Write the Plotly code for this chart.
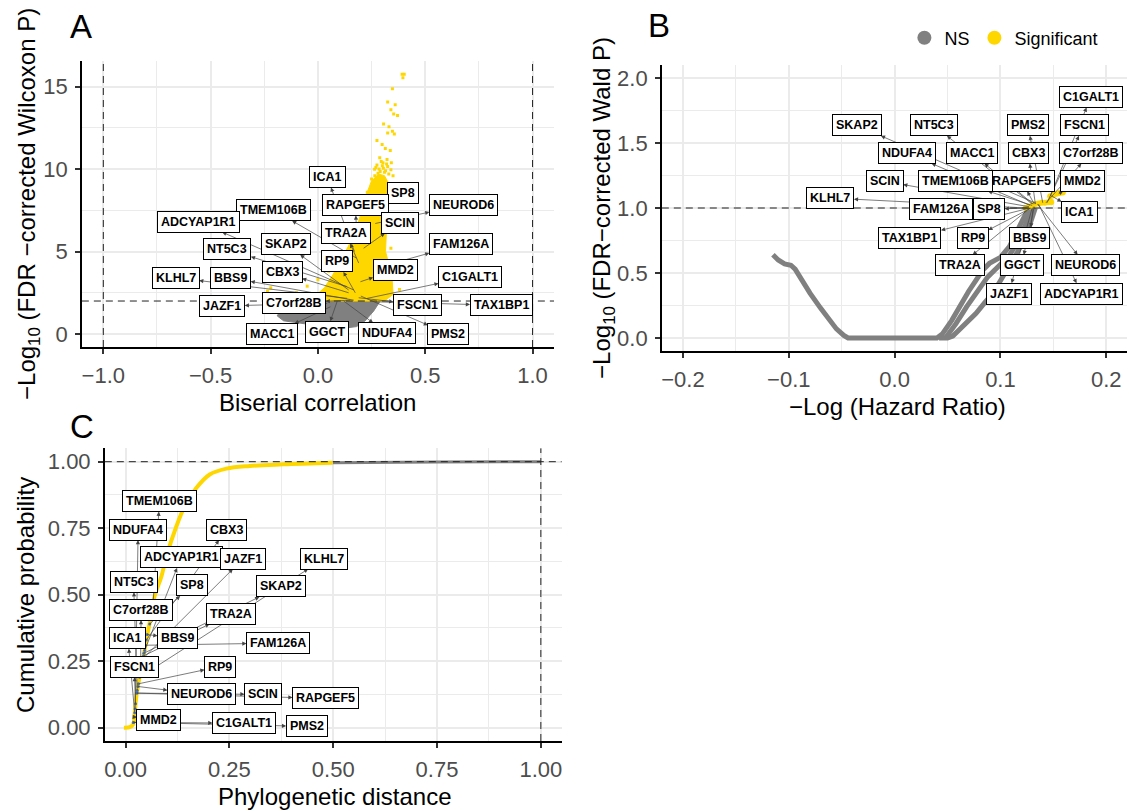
import plotly.graph_objects as go

FONT = "Liberation Sans"
GRAY = "#808080"
GOLD = "#FFD700"
GRID = "#EBEBEB"

# ---------------- Panel A: biserial correlation vs -log10 FDR (Wilcoxon) ----------------
# outline of the dense significant cloud
a_sig_core_r = [0.25, 0.23, 0.205, 0.17, 0.12, 0.07, 0.03, -0.02, -0.04, 0.31, 0.35, 0.345, 0.315, 0.32, 0.33, 0.335, 0.31, 0.28]
a_sig_core_p = [9.3, 8.6, 7.5, 6.0, 4.8, 3.6, 2.8, 2.2, 2.0, 2.0, 2.4, 3.5, 5.0, 6.5, 8.0, 9.0, 9.6, 9.7]
# outline of the dense non-significant cloud
a_ns_core_r = [-0.10, -0.17, -0.19, -0.16, -0.05, 0.05, 0.12, 0.18, 0.22, 0.26, 0.29]
a_ns_core_p = [2.0, 1.5, 1.1, 0.8, 0.6, 0.45, 0.35, 0.45, 0.8, 1.4, 2.0]
# significant genes scattered outside the dense core
a_sig_r = [0.392, 0.402, 0.396, 0.347, 0.325, 0.36, 0.34, 0.353, 0.371, 0.306, 0.331, 0.347, 0.325,
           0.356, 0.275, 0.299, 0.314, 0.337, 0.288, 0.322, 0.303, 0.342, 0.264, 0.35, 0.345, 0.25,
           0.23, 0.20, 0.36, 0.355, 0.34, 0.36, 0.37, 0.38, 0.39, -0.235, -0.22, -0.20, -0.24, -0.15,
           -0.10, -0.05, 0.0, 0.05, 0.27, 0.285, 0.30, 0.315, 0.29, 0.305, 0.32, 0.28, 0.31, 0.265,
           0.295, 0.325, 0.34, 0.275, 0.33]
a_sig_p = [15.74, 15.74, 15.54, 14.86, 14.06, 13.9, 13.6, 13.33, 13.25, 12.73, 12.57, 12.29, 12.19,
           12.13, 11.73, 11.49, 11.25, 11.13, 10.68, 10.58, 10.38, 10.38, 9.98, 9.6, 8.8, 9.4,
           8.6, 7.6, 7.2, 6.3, 5.2, 4.2, 3.4, 2.7, 2.3, 2.6, 2.8, 2.4, 2.3, 2.2,
           2.5, 2.9, 3.3, 3.8, 10.1, 10.0, 10.2, 9.9, 9.85, 10.05, 10.3, 9.75, 9.8, 9.6,
           10.45, 10.15, 9.95, 10.25, 9.7]
a_threshold = 2.0

a_genes = ["ICA1", "SP8", "RAPGEF5", "NEUROD6", "TMEM106B", "ADCYAP1R1", "SCIN", "TRA2A", "SKAP2",
           "NT5C3", "FAM126A", "RP9", "MMD2", "CBX3", "KLHL7", "BBS9", "C1GALT1", "JAZF1",
           "C7orf28B", "FSCN1", "TAX1BP1", "MACC1", "GGCT", "NDUFA4", "PMS2"]
a_gene_r = [0.17, 0.25, 0.18, 0.267, 0.18, 0.167, 0.213, 0.19, 0.143, 0.136, 0.27, 0.174, 0.198,
            0.143, 0.136, 0.167, 0.229, 0.043, 0.15, 0.19, 0.27, 0.058, 0.09, 0.12, 0.2]
a_gene_p = [5.0, 7.3, 6.3, 6.7, 4.6, 2.67, 5.2, 4.3, 2.67, 2.87, 4.0, 2.5, 3.17, 2.5, 2.16, 2.05,
            2.16, 1.86, 2.05, 2.2, 1.95, 1.65, 2.0, 2.0, 2.3]

# ---------------- Panel B: -log hazard ratio vs -log10 FDR (Wald) ----------------
b_ns_hr_1 = [-0.115, -0.110, -0.104, -0.098, -0.094, -0.088, -0.080, -0.070, -0.062, -0.055, -0.048,
             -0.044, 0.040, 0.045, 0.054, 0.0613, 0.070, 0.077, 0.083, 0.0896, 0.100, 0.1085, 0.115,
             0.121, 0.127]
b_ns_p_1 = [0.64, 0.60, 0.57, 0.56, 0.53, 0.45, 0.345, 0.23, 0.14, 0.07, 0.02,
            0.0, 0.0, 0.03, 0.136, 0.241, 0.36, 0.446, 0.52, 0.574, 0.62, 0.703, 0.80,
            0.908, 1.0]
b_ns_hr_2 = [0.042, 0.050, 0.055, 0.066, 0.077, 0.085, 0.0928, 0.100, 0.1085, 0.116, 0.124, 0.1305, 0.133]
b_ns_p_2 = [0.0, 0.0, 0.015, 0.10, 0.19, 0.27, 0.344, 0.44, 0.549, 0.66, 0.78, 0.933, 1.0]
b_ns_hr_3 = [0.048, 0.058, 0.068, 0.078, 0.088, 0.098, 0.108, 0.118, 0.126, 0.130]
b_ns_p_3 = [0.0, 0.11, 0.24, 0.36, 0.47, 0.55, 0.63, 0.76, 0.92, 1.0]
b_sig_hr = [0.124, 0.127, 0.130, 0.133, 0.136, 0.139, 0.142, 0.145, 0.148, 0.147, 0.150, 0.153, 0.156, 0.159]
b_sig_p = [1.00, 1.01, 1.02, 1.03, 1.035, 1.04, 1.04, 1.045, 1.045, 1.09, 1.10, 1.11, 1.115, 1.12]
b_threshold = 1.0

b_genes = ["C1GALT1", "SKAP2", "NT5C3", "PMS2", "FSCN1", "NDUFA4", "MACC1", "CBX3", "C7orf28B",
           "SCIN", "RAPGEF5", "TMEM106B", "MMD2", "KLHL7", "FAM126A", "SP8", "ICA1", "TAX1BP1",
           "RP9", "BBS9", "TRA2A", "GGCT", "NEUROD6", "JAZF1", "ADCYAP1R1"]
b_gene_hr = [0.147, 0.1337, 0.13, 0.14, 0.144, 0.128, 0.131, 0.133, 0.143, 0.127, 0.132, 0.13, 0.155,
             0.125, 0.127, 0.126, 0.148, 0.128, 0.129, 0.131, 0.128, 0.132, 0.135, 0.13, 0.136]
b_gene_p = [1.09, 1.036, 1.03, 1.04, 1.04, 1.02, 1.03, 1.03, 1.04, 1.01, 1.03, 1.02, 1.11,
            1.0, 1.0, 1.0, 1.095, 1.0, 1.0, 1.01, 1.0, 1.01, 1.03, 1.0, 1.03]

# ---------------- Panel C: cumulative distribution of phylogenetic distance ----------------
c_sig_dist = [-0.004, 0.010, 0.018, 0.022, 0.026, 0.034, 0.046, 0.058, 0.070, 0.0865, 0.0986, 0.1226,
              0.1425, 0.1707, 0.2026, 0.2428, 0.299, 0.379, 0.499]
c_sig_cum = [0.0, 0.002, 0.012, 0.056, 0.119, 0.194, 0.294, 0.395, 0.495, 0.570, 0.645, 0.758,
             0.833, 0.902, 0.952, 0.974, 0.984, 0.990, 0.996]
c_ns_dist = [0.499, 0.60, 0.75, 0.90, 1.0]
c_ns_cum = [0.996, 0.998, 0.999, 1.0, 1.0]

c_genes = ["TMEM106B", "NDUFA4", "CBX3", "ADCYAP1R1", "JAZF1", "KLHL7", "NT5C3", "SP8", "SKAP2",
           "C7orf28B", "TRA2A", "ICA1", "BBS9", "FAM126A", "FSCN1", "RP9", "NEUROD6", "SCIN",
           "RAPGEF5", "MMD2", "C1GALT1", "PMS2"]
c_gene_dist = [0.066, 0.023, 0.05, 0.046, 0.042, 0.034, 0.028, 0.058, 0.044, 0.036, 0.043, 0.022,
               0.052, 0.048, 0.024, 0.031, 0.030, 0.027, 0.027, 0.021, 0.019, 0.019]
c_gene_cum = [0.46, 0.07, 0.33, 0.29, 0.26, 0.19, 0.14, 0.39, 0.28, 0.21, 0.27, 0.056,
              0.35, 0.31, 0.09, 0.165, 0.155, 0.13, 0.13, 0.04, 0.02, 0.02]

# ---------------- label placement (repelled positions, axis units) ----------------
A_LABEL_AT = {
    "ICA1": (0.043, 9.52), "SP8": (0.395, 8.56), "RAPGEF5": (0.174, 7.82), "NEUROD6": (0.678, 7.82),
    "TMEM106B": (-0.205, 7.5), "ADCYAP1R1": (-0.557, 6.81), "SCIN": (0.381, 6.75),
    "TRA2A": (0.129, 6.12), "SKAP2": (-0.15, 5.44), "NT5C3": (-0.422, 5.13),
    "FAM126A": (0.666, 5.44), "RP9": (0.091, 4.4), "MMD2": (0.36, 3.88), "CBX3": (-0.167, 3.74),
    "KLHL7": (-0.663, 3.41), "BBS9": (-0.407, 3.41), "C1GALT1": (0.709, 3.47),
    "JAZF1": (-0.446, 1.70), "C7orf28B": (-0.111, 1.90), "FSCN1": (0.463, 1.78),
    "TAX1BP1": (0.853, 1.74), "MACC1": (-0.213, 0.0), "GGCT": (0.041, 0.14),
    "NDUFA4": (0.323, 0.04), "PMS2": (0.608, 0.0),
}
B_LABEL_AT = {
    "C1GALT1": (0.1855, 1.854), "SKAP2": (-0.0358, 1.636), "NT5C3": (0.0371, 1.636),
    "PMS2": (0.126, 1.636), "FSCN1": (0.179, 1.636), "NDUFA4": (0.0116, 1.423),
    "MACC1": (0.073, 1.423), "CBX3": (0.1264, 1.423), "C7orf28B": (0.1855, 1.423),
    "SCIN": (-0.0094, 1.205), "RAPGEF5": (0.120, 1.21), "TMEM106B": (0.0575, 1.21),
    "MMD2": (0.1774, 1.21), "KLHL7": (-0.0607, 1.077), "FAM126A": (0.0443, 0.99),
    "SP8": (0.0893, 0.99), "ICA1": (0.1745, 0.967), "TAX1BP1": (0.0145, 0.769),
    "RP9": (0.0739, 0.769), "BBS9": (0.1277, 0.769), "TRA2A": (0.0616, 0.559),
    "GGCT": (0.120, 0.559), "NEUROD6": (0.1808, 0.559), "JAZF1": (0.1079, 0.341),
    "ADCYAP1R1": (0.1767, 0.341),
}
C_LABEL_AT = {
    "TMEM106B": (0.0817, 0.852), "NDUFA4": (0.0303, 0.745), "CBX3": (0.2435, 0.745),
    "ADCYAP1R1": (0.1337, 0.64), "JAZF1": (0.2837, 0.636), "KLHL7": (0.479, 0.636),
    "NT5C3": (0.0192, 0.549), "SP8": (0.159, 0.535), "SKAP2": (0.374, 0.531),
    "C7orf28B": (0.0375, 0.444), "TRA2A": (0.2548, 0.429), "ICA1": (0.0055, 0.337),
    "BBS9": (0.125, 0.337), "FAM126A": (0.367, 0.318), "FSCN1": (0.0207, 0.23),
    "RP9": (0.2274, 0.23), "NEUROD6": (0.1827, 0.125), "SCIN": (0.331, 0.125),
    "RAPGEF5": (0.4815, 0.11), "MMD2": (0.080, 0.030), "C1GALT1": (0.285, 0.017),
    "PMS2": (0.436, 0.005),
}

fig = go.Figure()

# Panel A traces
fig.add_trace(go.Scatter(x=a_ns_core_r, y=a_ns_core_p, fill="toself", fillcolor=GRAY, mode="lines",
                         line=dict(color=GRAY, width=1), hoverinfo="skip", showlegend=False,
                         xaxis="x", yaxis="y"))
fig.add_trace(go.Scatter(x=a_sig_core_r, y=a_sig_core_p, fill="toself", fillcolor=GOLD, mode="lines",
                         line=dict(color=GOLD, width=1), hoverinfo="skip", showlegend=False,
                         xaxis="x", yaxis="y"))
fig.add_trace(go.Scatter(x=a_sig_r, y=a_sig_p, mode="markers",
                         marker=dict(color=GOLD, size=3, symbol="square"), showlegend=False,
                         xaxis="x", yaxis="y"))

# Panel B traces
for hx, hy in [(b_ns_hr_1, b_ns_p_1), (b_ns_hr_2, b_ns_p_2), (b_ns_hr_3, b_ns_p_3)]:
    fig.add_trace(go.Scatter(x=hx, y=hy, mode="lines", line=dict(color=GRAY, width=5),
                             showlegend=False, xaxis="x2", yaxis="y2"))
fig.add_trace(go.Scatter(x=b_sig_hr, y=b_sig_p, mode="lines+markers",
                         line=dict(color=GOLD, width=4), marker=dict(color=GOLD, size=6),
                         showlegend=False, xaxis="x2", yaxis="y2"))
# legend entries
fig.add_trace(go.Scatter(x=[None], y=[None], mode="markers", name="NS",
                         marker=dict(color=GRAY, size=14), xaxis="x2", yaxis="y2"))
fig.add_trace(go.Scatter(x=[None], y=[None], mode="markers", name="Significant",
                         marker=dict(color=GOLD, size=14), xaxis="x2", yaxis="y2"))

# Panel C traces
fig.add_trace(go.Scatter(x=c_ns_dist, y=c_ns_cum, mode="lines", line=dict(color=GRAY, width=3),
                         showlegend=False, xaxis="x3", yaxis="y3"))
fig.add_trace(go.Scatter(x=c_sig_dist, y=c_sig_cum, mode="lines", line=dict(color=GOLD, width=4, shape="spline"),
                         showlegend=False, xaxis="x3", yaxis="y3"))
fig.add_trace(go.Scatter(x=c_gene_dist, y=c_gene_cum, mode="markers",
                         marker=dict(color="#4A6FB5", size=3), showlegend=False, xaxis="x3", yaxis="y3"))


def axis(domain, rng, tickvals, minor, fmt, anchor):
    return dict(domain=domain, range=rng, anchor=anchor, tickvals=tickvals, tickformat=fmt,
                showline=True, linecolor="black", linewidth=1.6, ticks="outside", ticklen=5,
                tickwidth=1.6, tickcolor="#333333", ticklabelstandoff=3,
                tickfont=dict(family=FONT, size=22, color="#4D4D4D"),
                showgrid=True, gridcolor=GRID, gridwidth=1.6, zeroline=False,
                minor=dict(tickvals=minor, showgrid=True, gridcolor=GRID, gridwidth=0.9, ticks=""))


W, H = 1129, 811
px = lambda v: v / W
py = lambda v: 1 - v / H

layout_axes = dict(
    xaxis=axis([px(81), px(554)], [-1.1, 1.1], [-1, -0.5, 0, 0.5, 1], [-0.75, -0.25, 0.25, 0.75], ".1f", "y"),
    yaxis=axis([py(347), py(61.3)], [-0.787, 16.53], [0, 5, 10, 15], [2.5, 7.5, 12.5], "d", "x"),
    xaxis2=axis([px(662), px(1128.4)], [-0.22, 0.22], [-0.2, -0.1, 0, 0.1, 0.2], [-0.15, -0.05, 0.05, 0.15], ".1f", "y2"),
    yaxis2=axis([py(351), py(65)], [-0.1, 2.1], [0, 0.5, 1, 1.5, 2], [0.25, 0.75, 1.25, 1.75], ".1f", "x2"),
    xaxis3=axis([px(104), px(561.6)], [-0.05, 1.05], [0, 0.25, 0.5, 0.75, 1], [0.125, 0.375, 0.625, 0.875], ".2f", "y3"),
    yaxis3=axis([py(741), py(448.4)], [-0.05, 1.05], [0, 0.25, 0.5, 0.75, 1], [0.125, 0.375, 0.625, 0.875], ".2f", "x3"),
)

dash = dict(color="#222222", width=1, dash="7px,5px")
shapes = [
    dict(type="line", xref="x", yref="y domain", x0=-1, x1=-1, y0=0, y1=1, line=dash),
    dict(type="line", xref="x", yref="y domain", x0=1, x1=1, y0=0, y1=1, line=dash),
    dict(type="line", xref="x domain", yref="y", x0=0, x1=1, y0=a_threshold, y1=a_threshold, line=dash),
    dict(type="line", xref="x2 domain", yref="y2", x0=0, x1=1, y0=b_threshold, y1=b_threshold, line=dash),
    dict(type="line", xref="x3 domain", yref="y3", x0=0, x1=1, y0=1, y1=1, line=dash),
    dict(type="line", xref="x3", yref="y3 domain", x0=1, x1=1, y0=0, y1=1, line=dash),
]

arrows, boxes = [], []
LABEL_SIZE = 12.5


def labels(genes, gx, gy, placement, xr, yr):
    for g, x, y in zip(genes, gx, gy):
        lx, ly = placement[g]
        text = "<b>%s</b>" % g
        common = dict(text=text, borderwidth=1, borderpad=3)
        arrows.append(dict(common, x=x, y=y, xref=xr, yref=yr, ax=lx, ay=ly, axref=xr, ayref=yr,
                           showarrow=True, arrowside="start", startarrowhead=2, startarrowsize=1.2,
                           arrowwidth=0.7, arrowcolor="#444444", bordercolor="rgba(0,0,0,0)",
                           bgcolor="rgba(0,0,0,0)",
                           font=dict(family=FONT, size=LABEL_SIZE, color="rgba(0,0,0,0)")))
        boxes.append(dict(common, x=lx, y=ly, xref=xr, yref=yr, showarrow=False, bgcolor="white",
                          bordercolor="black", font=dict(family=FONT, size=LABEL_SIZE, color="black")))


labels(a_genes, a_gene_r, a_gene_p, A_LABEL_AT, "x", "y")
labels(b_genes, b_gene_hr, b_gene_p, B_LABEL_AT, "x2", "y2")
labels(c_genes, c_gene_dist, c_gene_cum, C_LABEL_AT, "x3", "y3")


def text(t, x, y, size, angle=0, color="black"):
    return dict(text=t, x=px(x), y=py(y), xref="paper", yref="paper", showarrow=False,
                xanchor="center", yanchor="middle", textangle=angle,
                font=dict(family=FONT, size=size, color=color))


titles = [
    text("Biserial correlation", 317.5, 403, 24),
    text("−Log<sub>10</sub> (FDR −corrected Wilcoxon P)", 27, 204, 24, -90),
    text("−Log (Hazard Ratio)", 898, 406, 24),
    text("−Log<sub>10</sub> (FDR−corrected Wald P)", 603, 208, 24, -90),
    text("Phylogenetic distance", 334, 796, 24),
    text("Cumulative probability", 24, 595, 24, -90),
    text("A", 80, 27, 33),
    text("B", 659, 25, 33),
    text("C", 81, 426, 33),
]

fig.update_layout(
    width=W, height=H, margin=dict(l=0, r=0, t=0, b=0),
    paper_bgcolor="white", plot_bgcolor="white",
    font=dict(family=FONT),
    shapes=shapes,
    annotations=arrows + boxes + titles,
    legend=dict(orientation="h", x=px(905), y=py(38), xanchor="left", yanchor="middle",
                font=dict(family=FONT, size=18, color="black"), bgcolor="rgba(0,0,0,0)",
                itemsizing="trace", itemwidth=30),
)
fig.update_layout(**layout_axes)

fig.write_html("out.html")
